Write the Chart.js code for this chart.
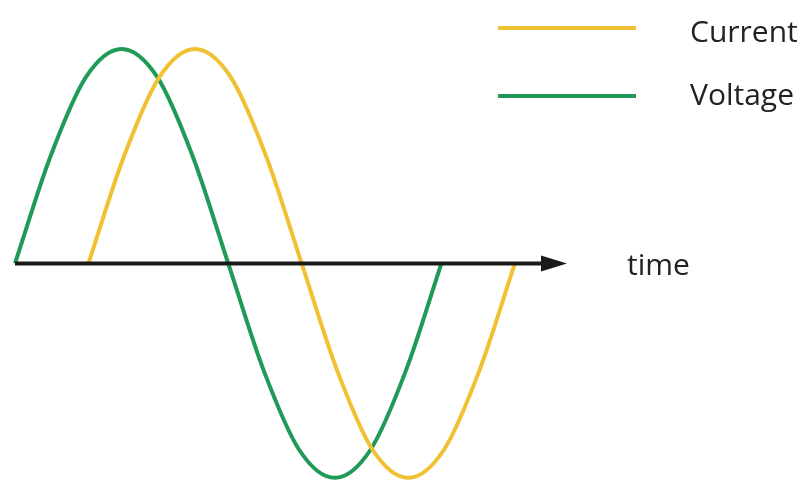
<!DOCTYPE html>
<html>
<head>
<meta charset="utf-8">
<script src="https://cdn.jsdelivr.net/npm/chart.js@4"></script>
<style>
  html, body { margin: 0; padding: 0; background: #fff; }
  #wrap { width: 811px; height: 485px; position: relative; }
</style>
</head>
<body>
<div id="wrap"><canvas id="waveChart" width="811" height="485"></canvas></div>
<script>
// Valores (fase en grados, amplitud normalizada)
const voltageX = [0, 30, 60, 90, 120, 150, 180, 210, 240, 270, 300, 330, 360];
const voltageY = [0, 0.5, 0.87, 1, 0.87, 0.5, 0, -0.5, -0.87, -1, -0.87, -0.5, 0];
const currentX = [62, 92, 122, 152, 182, 212, 242, 272, 302, 332, 362, 392, 422];
const currentY = [0, 0.5, 0.87, 1, 0.87, 0.5, 0, -0.5, -0.87, -1, -0.87, -0.5, 0];
const seriesLabels = ['Current', 'Voltage'];
const axisLabel = 'time';
const axisEnd = 466;

const YELLOW = '#efc133';
const GREEN = '#1f9b57';

// Dibuja el eje con flecha, la etiqueta "time" y la leyenda
const decorPlugin = {
    id: 'decor',
    afterDatasetsDraw(chart) {
        const { ctx, scales: { x, y } } = chart;
        const y0 = y.getPixelForValue(0);
        const x0 = x.getPixelForValue(0);
        const x1 = x.getPixelForValue(axisEnd);
        ctx.save();
        ctx.strokeStyle = '#1a1a1a';
        ctx.fillStyle = '#1a1a1a';
        ctx.lineWidth = 4;
        ctx.beginPath();
        ctx.moveTo(x0, y0);
        ctx.lineTo(x1 - 20, y0);
        ctx.stroke();
        ctx.beginPath();
        ctx.moveTo(x1, y0);
        ctx.lineTo(x1 - 26, y0 - 8);
        ctx.lineTo(x1 - 26, y0 + 8);
        ctx.closePath();
        ctx.fill();

        ctx.font = '30px "Open Sans", Lato, sans-serif';
        ctx.textBaseline = 'alphabetic';
        ctx.fillStyle = '#222';
        ctx.fillText(axisLabel, 627, 275);

        const legend = [[seriesLabels[0], YELLOW, 28, 42], [seriesLabels[1], GREEN, 96, 105]];
        legend.forEach(([txt, col, ly, ty]) => {
            ctx.strokeStyle = col;
            ctx.lineWidth = 4;
            ctx.beginPath();
            ctx.moveTo(498, ly);
            ctx.lineTo(636, ly);
            ctx.stroke();
            ctx.fillStyle = '#222';
            ctx.fillText(txt, 690, ty);
        });
        ctx.restore();
    }
};

new Chart(document.getElementById('waveChart').getContext('2d'), {
    type: 'line',
    data: {
        datasets: [
            {
                label: seriesLabels[0],
                data: currentX.map((v, i) => ({ x: v, y: currentY[i] })),
                borderColor: YELLOW,
                borderWidth: 4,
                pointRadius: 0,
                cubicInterpolationMode: 'monotone',
                clip: false
            },
            {
                label: seriesLabels[1],
                data: voltageX.map((v, i) => ({ x: v, y: voltageY[i] })),
                borderColor: GREEN,
                borderWidth: 4,
                pointRadius: 0,
                cubicInterpolationMode: 'monotone',
                clip: false
            }
        ]
    },
    options: {
        responsive: false,
        animation: false,
        layout: { padding: { left: 15, right: 244, top: 49, bottom: 5 } },
        plugins: { legend: { display: false }, tooltip: { enabled: false } },
        scales: {
            x: { type: 'linear', min: 0, max: axisEnd, display: false },
            y: { min: -1.01, max: 1, display: false }
        }
    },
    plugins: [decorPlugin]
});
</script>
</body>
</html>
